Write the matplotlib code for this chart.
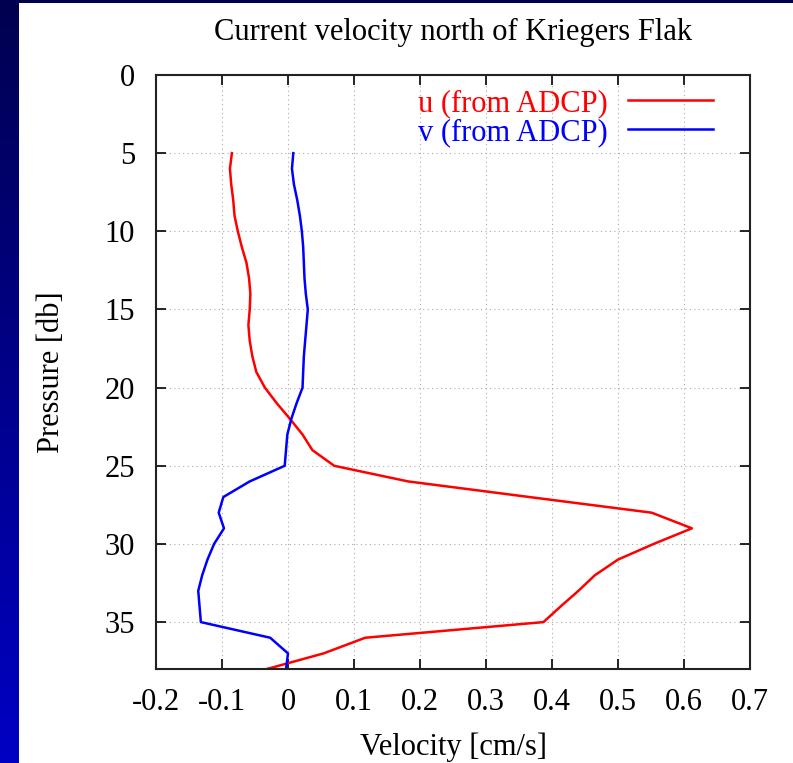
import numpy as np
import matplotlib
matplotlib.use("Agg")
import matplotlib.pyplot as plt
from matplotlib.colors import LinearSegmentedColormap

pressure = [5, 6, 7, 8, 9, 10, 11, 12, 13, 14, 15, 16, 17, 18, 19, 20, 21, 22,
            23, 24, 25, 26, 27, 28, 29, 30, 31, 32, 33, 34, 35, 36, 37, 38]
u_adcp = [-0.085, -0.088, -0.086, -0.083, -0.081, -0.076, -0.070, -0.063, -0.059,
          -0.057, -0.058, -0.060, -0.058, -0.054, -0.048, -0.035, -0.017, 0.003,
          0.022, 0.037, 0.070, 0.182, 0.366, 0.551, 0.612, 0.554, 0.500, 0.465,
          0.440, 0.413, 0.387, 0.117, 0.054, -0.032]
v_adcp = [0.008, 0.006, 0.009, 0.014, 0.018, 0.021, 0.023, 0.024, 0.025, 0.027,
          0.030, 0.028, 0.026, 0.024, 0.023, 0.022, 0.013, 0.005, -0.001, -0.003,
          -0.005, -0.058, -0.098, -0.105, -0.097, -0.112, -0.122, -0.130, -0.136,
          -0.134, -0.132, -0.027, 0.000, -0.003]
xticks = [-0.2, -0.1, 0, 0.1, 0.2, 0.3, 0.4, 0.5, 0.6, 0.7]
xtick_labels = ["-0.2", "-0.1", "0", "0.1", "0.2", "0.3", "0.4", "0.5", "0.6", "0.7"]
yticks = [0, 5, 10, 15, 20, 25, 30, 35]

plt.rcParams['font.family'] = ['Liberation Serif', 'DejaVu Serif']
FS = 22

fig = plt.figure(figsize=(7.93, 7.63), dpi=100)
fig.patch.set_facecolor('white')

# slide background strips
grad = np.linspace(0, 1, 256).reshape(-1, 1)
cmap = LinearSegmentedColormap.from_list('bg', ['#000050', '#0000c4'])
sax = fig.add_axes([0, 0, 19/793, 1])
sax.imshow(grad, aspect='auto', cmap=cmap, extent=[0, 1, 1, 0])
sax.set_axis_off()
tax = fig.add_axes([0, 1 - 3/763, 1, 3/763])
tax.set_facecolor('#000050')
tax.set_xticks([]); tax.set_yticks([])
for s in tax.spines.values():
    s.set_visible(False)

ax = fig.add_axes([156/793, 94/763, 594/793, 594/763])
ax.plot(u_adcp, pressure, color='#ff0000', lw=1.8, label='u (from ADCP)')
ax.plot(v_adcp, pressure, color='#0000ff', lw=1.8, label='v (from ADCP)')

ax.set_xlim(-0.2, 0.7)
ax.set_ylim(38, 0)
ax.set_xticks(xticks)
ax.set_xticklabels(xtick_labels)
ax.set_yticks(yticks)
ax.tick_params(direction='in', length=7, width=1.2, labelsize=FS,
               top=True, right=True, pad=14)
ax.tick_params(axis='y', pad=15)
ax.grid(True, color='#aaaaaa', linestyle=(0, (1, 3)), linewidth=0.8)
for s in ax.spines.values():
    s.set_linewidth(1.5)
    s.set_color('#222222')

ax.set_title('Current velocity north of Kriegers Flak', fontsize=FS, pad=25)
ax.set_xlabel('Velocity [cm/s]', fontsize=FS, labelpad=11)
ax.set_ylabel('Pressure [db]', fontsize=FS, labelpad=28)

leg = ax.legend(loc='upper right', frameon=False, fontsize=FS, markerfirst=False,
                handlelength=2.8, handletextpad=0.65, borderaxespad=0.05,
                labelspacing=0.0, bbox_to_anchor=(0.961, 1.0))
for txt, line in zip(leg.get_texts(), leg.get_lines()):
    txt.set_color(line.get_color())

fig.savefig('out.png', dpi=100)
